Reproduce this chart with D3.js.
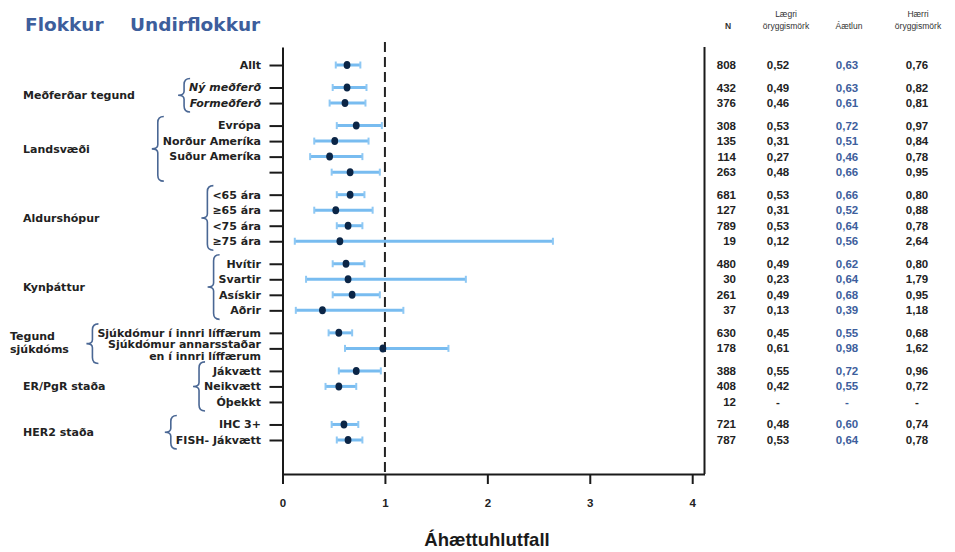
<!DOCTYPE html>
<html>
<head>
<meta charset="utf-8">
<script src="https://cdn.jsdelivr.net/npm/d3@7"></script>
<style>
  body { margin: 0; background: #fff; }
  svg text { font-family: "Liberation Sans", Arial, sans-serif; }
  svg text.lab { font-family: "DejaVu Sans", Verdana, sans-serif; }
</style>
</head>
<body>
<script>

// --- data ---
var groups = ["", "Meðferðar tegund", "Landsvæði", "Aldurshópur", "Kynþáttur", "Tegund|sjúkdóms", "ER/PgR staða", "HER2 staða"];

var rowLabels = ["Allt", "Ný meðferð", "Formeðferð", "Evrópa", "Norður Ameríka", "Suður Ameríka", "",
  "<65 ára", "≥65 ára", "<75 ára", "≥75 ára", "Hvítir", "Svartir", "Asískir", "Aðrir",
  "Sjúkdómur í innri líffærum", "Sjúkdómur annarsstaðar|en í innri líffærum",
  "Jákvætt", "Neikvætt", "Óþekkt", "IHC 3+", "FISH- Jákvætt"];

var rowGroup = [0, 1, 1, 2, 2, 2, 2, 3, 3, 3, 3, 4, 4, 4, 4, 5, 5, 6, 6, 6, 7, 7];

var nValues = [808, 432, 376, 308, 135, 114, 263, 681, 127, 789, 19, 480, 30, 261, 37, 630, 178, 388, 408, 12, 721, 787];

var lowerCI = [0.52, 0.49, 0.46, 0.53, 0.31, 0.27, 0.48, 0.53, 0.31, 0.53, 0.12, 0.49, 0.23, 0.49, 0.13, 0.45, 0.61, 0.55, 0.42, null, 0.48, 0.53];
var estimate = [0.63, 0.63, 0.61, 0.72, 0.51, 0.46, 0.66, 0.66, 0.52, 0.64, 0.56, 0.62, 0.64, 0.68, 0.39, 0.55, 0.98, 0.72, 0.55, null, 0.60, 0.64];
var upperCI = [0.76, 0.82, 0.81, 0.97, 0.84, 0.78, 0.95, 0.80, 0.88, 0.78, 2.64, 0.80, 1.79, 0.95, 1.18, 0.68, 1.62, 0.96, 0.72, null, 0.74, 0.78];

var xTicks = [0, 1, 2, 3, 4];
var tableHeads = [["", "N"], ["Lægri", "öryggismörk"], ["", "Áætlun"], ["Hærri", "öryggismörk"]];

// --- layout ---
var width = 955, height = 552;
var groupGap = 0.45;

var rows = rowLabels.map(function(l, i) {
  return {
    label: l, group: rowGroup[i], pos: i + groupGap * rowGroup[i],
    n: nValues[i], lo: lowerCI[i], est: estimate[i], hi: upperCI[i]
  };
});

var x = d3.scaleLinear().domain([0, 4.12]).range([282.5, 704.5]);
var y = d3.scaleLinear().domain([-1.16, 26.34]).range([47, 474]);

var svg = d3.select("body").append("svg")
    .attr("width", width)
    .attr("height", height);

var fmt = function(v) { return v == null ? "-" : d3.format(".2f")(v).replace(".", ","); };

// title
[["Flokkur", 25], ["Undirflokkur", 130]].forEach(function(t) {
  svg.append("text")
      .attr("class", "lab")
      .attr("x", t[1]).attr("y", 31)
      .attr("fill", "#3d5e9c")
      .attr("font-size", 18.5)
      .attr("font-weight", "bold")
      .text(t[0]);
});

// reference line at 1
svg.append("line")
    .attr("x1", x(1)).attr("x2", x(1))
    .attr("y1", 42).attr("y2", 474)
    .attr("stroke", "#222")
    .attr("stroke-width", 2)
    .attr("stroke-dasharray", "10,5");

// axes
var yAxis = svg.append("g")
    .attr("transform", "translate(" + x(0) + ",0)")
    .call(d3.axisLeft(y).tickValues(rows.map(function(d) { return d.pos; }))
      .tickSize(13).tickSizeOuter(0).tickFormat(""));

var xAxis = svg.append("g")
    .attr("transform", "translate(0," + y.range()[1] + ")")
    .call(d3.axisBottom(x).tickValues(xTicks).tickSize(10).tickSizeOuter(0)
      .tickPadding(15).tickFormat(d3.format("d")));

svg.selectAll(".domain, .tick line")
    .attr("stroke", "#1a1a1a")
    .attr("stroke-width", 2);

xAxis.selectAll("text")
    .attr("font-size", 11.5)
    .attr("font-weight", "bold")
    .attr("fill", "#222");

// right border
svg.append("line")
    .attr("x1", x.range()[1]).attr("x2", x.range()[1])
    .attr("y1", y.range()[0]).attr("y2", y.range()[1])
    .attr("stroke", "#1a1a1a")
    .attr("stroke-width", 2);

// axis title
svg.append("text")
    .attr("x", 487).attr("y", 546)
    .attr("text-anchor", "middle")
    .attr("font-size", 18.5)
    .attr("font-weight", "bold")
    .attr("fill", "#1a1a1a")
    .text("Áhættuhlutfall");

// confidence intervals
var ci = svg.append("g").selectAll("g")
    .data(rows.filter(function(d) { return d.est != null; }))
  .enter().append("g");

ci.append("line")
    .attr("x1", function(d) { return x(d.lo); })
    .attr("x2", function(d) { return x(d.hi); })
    .attr("y1", function(d) { return y(d.pos); })
    .attr("y2", function(d) { return y(d.pos); })
    .attr("stroke", "#78bcf0")
    .attr("stroke-width", 3);

ci.selectAll("line.cap")
    .data(function(d) { return [d.lo, d.hi].map(function(v) { return {v: v, pos: d.pos}; }); })
  .enter().append("line")
    .attr("class", "cap")
    .attr("x1", function(d) { return x(d.v); })
    .attr("x2", function(d) { return x(d.v); })
    .attr("y1", function(d) { return y(d.pos) - 3.5; })
    .attr("y2", function(d) { return y(d.pos) + 3.5; })
    .attr("stroke", "#8ec8f4")
    .attr("stroke-width", 2);

ci.append("ellipse")
    .attr("cx", function(d) { return x(d.est); })
    .attr("cy", function(d) { return y(d.pos); })
    .attr("rx", 3.4)
    .attr("ry", 4)
    .attr("fill", "#0b2546");

// row labels
var labels = svg.append("g").selectAll("text")
    .data(rows)
  .enter().append("text")
    .attr("class", "lab")
    .attr("text-anchor", "end")
    .attr("x", 261)
    .attr("y", function(d) { return y(d.pos); })
    .attr("font-size", 11)
    .attr("font-weight", "bold")
    .attr("font-style", function(d) { return d.group === 1 ? "italic" : "normal"; })
    .attr("fill", "#222");

labels.each(function(d) {
  var parts = d.label.split("|");
  var t = d3.select(this);
  parts.forEach(function(p, k) {
    t.append("tspan")
      .attr("x", 261)
      .attr("dy", k === 0 ? (parts.length > 1 ? "-0.05em" : "0.35em") : "1.15em")
      .text(p);
  });
});

// group labels and braces
var brace = function(xr, y0, y1) {
  var xm = xr - 6, xc = xr - 12, ym = (y0 + y1) / 2;
  return "M" + xr + "," + y0 +
    " Q" + xm + "," + y0 + " " + xm + "," + (y0 + 6) +
    " L" + xm + "," + (ym - 4) +
    " Q" + xm + "," + ym + " " + xc + "," + ym +
    " Q" + xm + "," + ym + " " + xm + "," + (ym + 4) +
    " L" + xm + "," + (y1 - 6) +
    " Q" + xm + "," + y1 + " " + xr + "," + y1;
};

groups.forEach(function(g, gi) {
  if (!g) return;
  var sel = labels.filter(function(d) { return d.group === gi; });
  var minX = Infinity, minY = Infinity, maxY = -Infinity;
  sel.each(function(d) {
    minY = Math.min(minY, y(d.pos) - 9);
    maxY = Math.max(maxY, y(d.pos) + 9);
    if (!d.label) return;
    var b = this.getBBox();
    minX = Math.min(minX, b.x);
    minY = Math.min(minY, b.y);
    maxY = Math.max(maxY, b.y + b.height);
  });
  svg.append("path")
      .attr("d", brace(minX + 1, minY, maxY))
      .attr("fill", "none")
      .attr("stroke", "#4a6794")
      .attr("stroke-width", 1.6);

  var members = rows.filter(function(d) { return d.group === gi; });
  var cy = d3.mean(members, function(d) { return y(d.pos); });
  var parts = g.split("|");
  var gx = parts.length > 1 ? 10 : 23;
  var t = svg.append("text")
      .attr("class", "lab")
      .attr("x", gx)
      .attr("y", cy)
      .attr("font-size", 11)
      .attr("font-weight", "bold")
      .attr("fill", "#222");
  parts.forEach(function(p, k) {
    t.append("tspan")
      .attr("x", gx)
      .attr("dy", k === 0 ? (parts.length > 1 ? "-0.1em" : "0.35em") : "1.25em")
      .text(p);
  });
});

// table on the right
var colX = [736, 778, 847, 917];
var headX = [728, 786, 849, 918];
var colAnchor = ["end", "middle", "middle", "middle"];
var colFill = ["#222", "#222", "#3d5e9c", "#222"];

var head = svg.append("g").attr("font-size", 8.5).attr("fill", "#333");
tableHeads.forEach(function(h, c) {
  head.append("text").attr("x", headX[c]).attr("y", 17).attr("text-anchor", "middle").text(h[0]);
  head.append("text").attr("x", headX[c]).attr("y", 29).attr("text-anchor", "middle")
      .attr("font-weight", c === 0 ? "bold" : "normal").text(h[1]);
});

var table = svg.append("g").selectAll("g")
    .data(rows)
  .enter().append("g")
    .attr("transform", function(d) { return "translate(0," + y(d.pos) + ")"; });

[function(d) { return d.n; }, function(d) { return fmt(d.lo); },
 function(d) { return fmt(d.est); }, function(d) { return fmt(d.hi); }].forEach(function(f, c) {
  table.append("text")
      .attr("x", colX[c])
      .attr("dy", "0.35em")
      .attr("text-anchor", colAnchor[c])
      .attr("font-size", 11.5)
      .attr("font-weight", "bold")
      .attr("fill", colFill[c])
      .text(f);
});

</script>
</body>
</html>
